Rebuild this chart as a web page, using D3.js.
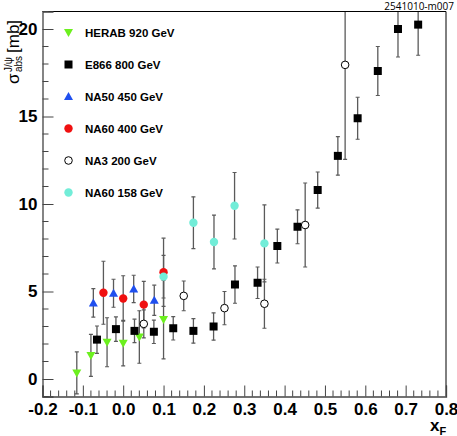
<!DOCTYPE html>
<html><head><meta charset="utf-8">
<script src="https://cdn.jsdelivr.net/npm/d3@7"></script>
<style>
body{margin:0;background:#fff;}
svg{display:block;font-family:"Liberation Sans",Arial,sans-serif;}
</style></head>
<body><svg id="c" width="457" height="436"></svg>
<script>
// ---- data ----
const seriesNames = ["HERAB 920 GeV","E866 800 GeV","NA50 450 GeV","NA60 400 GeV","NA3 200 GeV","NA60 158 GeV"];
const herabX = [-0.115,-0.08,-0.04,0.0,0.04,0.1];
const herabY = [0.35,1.35,2.1,2.05,2.4,3.4];
const herabE = [1.2,1.2,1.4,1.3,1.5,2.25];
const e866X = [-0.065,-0.018,0.028,0.076,0.124,0.174,0.224,0.277,0.333,0.382,0.432,0.482,0.532,0.581,0.631,0.681,0.731];
const e866Y = [2.25,2.85,2.75,2.7,2.9,2.75,3.0,5.4,5.5,7.6,8.7,10.8,12.75,14.9,17.6,20.0,20.25];
const e866E = [0.78,0.7,0.67,0.67,0.67,0.7,0.78,1.07,0.9,0.97,0.97,1.03,1.1,1.2,1.4,1.6,1.75];
const na50X = [-0.074,-0.024,0.026,0.077];
const na50Y = [4.35,4.9,5.15,4.5];
const na50E = [0.81,0.8,0.78,0.86];
const na60hX = [-0.049,0.0,0.051,0.1];
const na60hY = [4.93,4.6,4.25,6.1];
const na60hE = [1.8,1.3,1.33,1.95];
const na3X = [0.051,0.15,0.251,0.35,0.451,0.55];
const na3Y = [3.15,4.75,4.05,4.3,8.8,17.95];
const na3E = [0.8,0.85,0.95,1.4,2.4,5.4];
const na60lX = [0.1,0.174,0.225,0.276,0.35];
const na60lY = [5.85,8.93,7.83,9.9,7.75];
const na60lE = [1.22,1.48,1.54,1.9,2.2];
const xMajor = [-0.2,-0.1,0,0.1,0.2,0.3,0.4,0.5,0.6,0.7,0.8];
const yMajor = [0,5,10,15,20];

// ---- layout ----
const L=42.5,R=446,T=11.5,B=396.5;
const x=d3.scaleLinear().domain([-0.2,0.8]).range([L,R]);
const y=d3.scaleLinear().domain([-1,21]).range([B,T]);
const svg=d3.select("#c");

const series=[
 {name:seriesNames[0],X:herabX,Y:herabY,E:herabE,shape:"down",fill:"#6cf01e",stroke:"none"},
 {name:seriesNames[1],X:e866X,Y:e866Y,E:e866E,shape:"square",fill:"#000",stroke:"none"},
 {name:seriesNames[2],X:na50X,Y:na50Y,E:na50E,shape:"up",fill:"#1f4fef",stroke:"none"},
 {name:seriesNames[3],X:na60hX,Y:na60hY,E:na60hE,shape:"circle",fill:"#f01010",stroke:"none"},
 {name:seriesNames[4],X:na3X,Y:na3Y,E:na3E,shape:"circle",fill:"#fff",stroke:"#000"},
 {name:seriesNames[5],X:na60lX,Y:na60lY,E:na60lE,shape:"circle",fill:"#72edd8",stroke:"none"}
];

function drawMarker(g,s,cx,cy){
  if(s.shape==="square"){
    g.append("rect").attr("x",cx-4).attr("y",cy-4).attr("width",8).attr("height",8).attr("fill",s.fill);
  }else if(s.shape==="circle"){
    g.append("circle").attr("cx",cx).attr("cy",cy).attr("r",s.stroke==="none"?4.2:3.8)
     .attr("fill",s.fill).attr("stroke",s.stroke).attr("stroke-width",1);
  }else if(s.shape==="up"){
    g.append("path").attr("d",`M${cx-4.5},${cy+3.5}L${cx+4.5},${cy+3.5}L${cx},${cy-4.5}Z`).attr("fill",s.fill);
  }else{
    g.append("path").attr("d",`M${cx-4.5},${cy-3.5}L${cx+4.5},${cy-3.5}L${cx},${cy+4.5}Z`).attr("fill",s.fill);
  }
}

svg.append("defs").append("clipPath").attr("id","clip").append("rect")
  .attr("x",L).attr("y",T).attr("width",R-L).attr("height",B-T);

const plot=svg.append("g").attr("clip-path","url(#clip)");
// error bars
series.forEach(s=>{
  s.X.forEach((xv,i)=>{
    const cx=x(xv),y1=y(s.Y[i]+s.E[i]),y2=y(s.Y[i]-s.E[i]);
    plot.append("line").attr("x1",cx).attr("x2",cx).attr("y1",y1).attr("y2",y2)
      .attr("stroke","#5a5a5a").attr("stroke-width",1.3);
    [y1,y2].forEach(yy=>plot.append("line").attr("x1",cx-2).attr("x2",cx+2).attr("y1",yy).attr("y2",yy)
      .attr("stroke","#5a5a5a").attr("stroke-width",1.2));
  });
});
// markers
series.forEach(s=>{
  s.X.forEach((xv,i)=>drawMarker(plot,s,x(xv),y(s.Y[i])));
});

// frame
svg.append("line").attr("x1",L).attr("x2",R).attr("y1",T).attr("y2",T).attr("stroke","#000").attr("stroke-width",1);
svg.append("line").attr("x1",R).attr("x2",R).attr("y1",T).attr("y2",B).attr("stroke","#000").attr("stroke-width",1);

// x axis
const xMinor=d3.range(-0.2,0.8001,0.02).filter(v=>Math.abs(Math.round(v*10)-v*10)>1e-6);
const xa=svg.append("g").attr("transform",`translate(0,${B})`);
xa.call(d3.axisBottom(x).tickValues(xMajor).tickSize(-11).tickPadding(6).tickFormat(d=>d.toFixed(1)));
xMinor.forEach(v=>xa.append("line").attr("x1",x(v)).attr("x2",x(v)).attr("y1",0).attr("y2",-6).attr("stroke","#444"));
xa.select(".domain").attr("stroke","#444").attr("stroke-width",1.3);
xa.selectAll(".tick line").attr("stroke","#444");
xa.selectAll("text").attr("font-size",17).attr("font-weight","bold").attr("fill","#000")
  .attr("font-family","Liberation Sans, Arial, sans-serif");

// y axis
const yMinor=d3.range(-1,21.001,1).filter(v=>v%5!==0);
const ya=svg.append("g").attr("transform",`translate(${L},0)`);
ya.call(d3.axisLeft(y).tickValues(yMajor).tickSize(-11).tickPadding(5).tickFormat(d=>String(d)));
yMinor.forEach(v=>ya.append("line").attr("x1",0).attr("x2",6).attr("y1",y(v)).attr("y2",y(v)).attr("stroke","#444"));
ya.select(".domain").attr("stroke","#444").attr("stroke-width",1.3);
ya.selectAll(".tick line").attr("stroke","#444");
ya.selectAll("text").attr("font-size",17).attr("font-weight","bold").attr("fill","#000")
  .attr("font-family","Liberation Sans, Arial, sans-serif");

// legend
const legY0=32.5, legDY=32;
series.forEach((s,i)=>{
  const ly=legY0+i*legDY;
  const g=svg.append("g");
  drawMarker(g,s,68.5,ly);
  g.append("text").attr("x",85).attr("y",ly+4.5).text(s.name)
   .attr("font-size",11.5).attr("font-weight","bold").attr("fill","#000");
});

// axis titles
const yt=svg.append("g").attr("transform","translate(19,84) rotate(-90)");
yt.append("text").attr("x",0).attr("y",0).attr("font-size",17).text("σ");
yt.append("text").attr("x",12).attr("y",-7).attr("font-size",10).text("J/ψ");
yt.append("text").attr("x",12).attr("y",3).attr("font-size",10).text("abs");
yt.append("text").attr("x",31).attr("y",0).attr("font-size",17).text("[mb]");

const xt=svg.append("text").attr("x",430).attr("y",431).attr("font-weight","bold").attr("fill","#000");
xt.append("tspan").attr("font-size",17).text("x");
xt.append("tspan").attr("font-size",11).attr("dy",4).text("F");

svg.append("text").attr("x",454).attr("y",10).attr("text-anchor","end").attr("font-size",10)
  .attr("font-family","Open Sans, sans-serif").attr("fill","#000").text("2541010-m007");
</script></body></html>
